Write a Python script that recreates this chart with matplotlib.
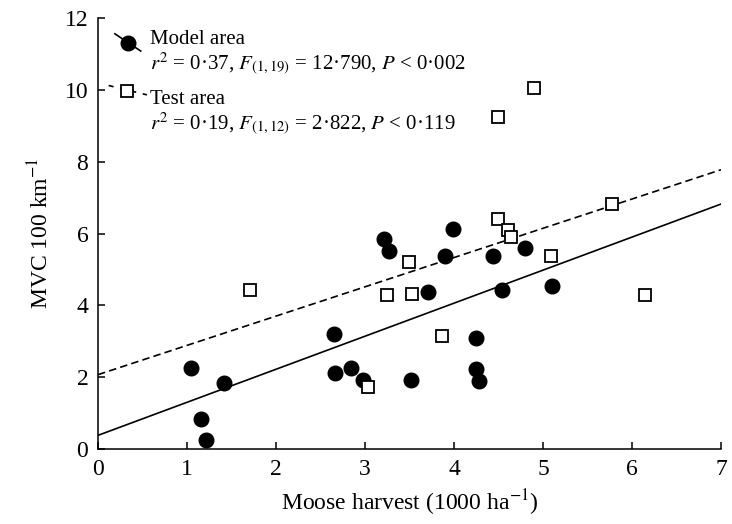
#!/usr/bin/env python3

'''
MVC vs moose harvest, model and test areas.
'''

import numpy as np
import matplotlib
matplotlib.use('Agg')
import matplotlib.pyplot as pl

pl.rcParams['font.family']='Liberation Serif'
pl.rcParams['mathtext.fontset']='stix'

# Model area (filled circles)
model_x=[1.05, 1.16, 1.21, 1.42, 2.65, 2.66, 2.84, 2.98, 3.21, 3.27, 3.52,
         3.71, 3.90, 3.99, 4.25, 4.25, 4.28, 4.44, 4.54, 4.80, 5.10]
model_y=[2.26, 0.84, 0.25, 1.84, 3.20, 2.12, 2.26, 1.92, 5.85, 5.52, 1.92,
         4.37, 5.38, 6.13, 3.09, 2.23, 1.89, 5.38, 4.43, 5.60, 4.54]

# Test area (open squares)
test_x=[1.71, 3.03, 3.49, 3.25, 3.53, 4.90, 4.49, 5.78, 4.49, 4.61, 4.64,
        5.09, 6.15, 3.87]
test_y=[4.43, 1.73, 5.21, 4.29, 4.32, 10.06, 9.25, 6.82, 6.41, 6.10, 5.91,
        5.38, 4.29, 3.15]

# Regression lines (intercept, slope)
model_fit=(0.38, 0.92)
test_fit=(2.07, 0.815)

model_label='Model area'
model_stats=r'$r^2$ = 0·37, $F_{(1,19)}$ = 12·790, $P$ < 0·002'
test_label='Test area'
test_stats=r'$r^2$ = 0·19, $F_{(1,12)}$ = 2·822, $P$ < 0·119'

fig=pl.figure(figsize=(7.32,5.24), dpi=100)
ax=fig.add_axes([98/732, 1-449/524, 623/732, 431/524])

xx=np.array([0.,7.])
ax.plot(xx, model_fit[0]+model_fit[1]*xx, color='black', lw=1.2, zorder=2)
ax.plot(xx, test_fit[0]+test_fit[1]*xx, color='black', lw=1.2,
        ls=(0,(4.5,2.5)), zorder=2)

ax.plot(model_x, model_y, 'o', ms=10.5, mfc='black', mec='black', zorder=3)
ax.plot(test_x, test_y, 's', ms=8.5, mfc='white', mec='black', mew=1.3, zorder=4)

# legend (drawn by hand, like the original)
ax.plot([0.19,0.48],[11.56,11.08], color='black', lw=1.2, zorder=3)
ax.plot([0.34],[11.31],'o', ms=10.5, mfc='black', mec='black', zorder=4)
ax.plot([0.12,0.55],[10.12,9.86], color='black', lw=1.2, ls=(0,(3,4)), zorder=3)
ax.plot([0.33],[9.97],'s', ms=8.5, mfc='white', mec='black', mew=1.3, zorder=4)
ax.text(0.58, 11.4, model_label, fontsize=15, va='center', ha='left')
ax.text(0.58, 10.72, model_stats, fontsize=15, va='center', ha='left')
ax.text(0.58, 9.74, test_label, fontsize=15, va='center', ha='left')
ax.text(0.58, 9.06, test_stats, fontsize=15, va='center', ha='left')

ax.set_xlim(0,7)
ax.set_ylim(0,12)
ax.set_xticks(range(0,8))
ax.set_yticks(range(0,13,2))
for s in ['top','right']:
    ax.spines[s].set_visible(False)
for s in ['left','bottom']:
    ax.spines[s].set_linewidth(1.1)
ax.tick_params(direction='in', length=5, width=1.1, labelsize=17, pad=7)

ax.set_xlabel(r'Moose harvest (1000 ha$^{-1}$)', fontsize=17, labelpad=6)
ax.set_ylabel(r'MVC 100 km$^{-1}$', fontsize=17, labelpad=8)

pl.savefig('out.png', dpi=100)
